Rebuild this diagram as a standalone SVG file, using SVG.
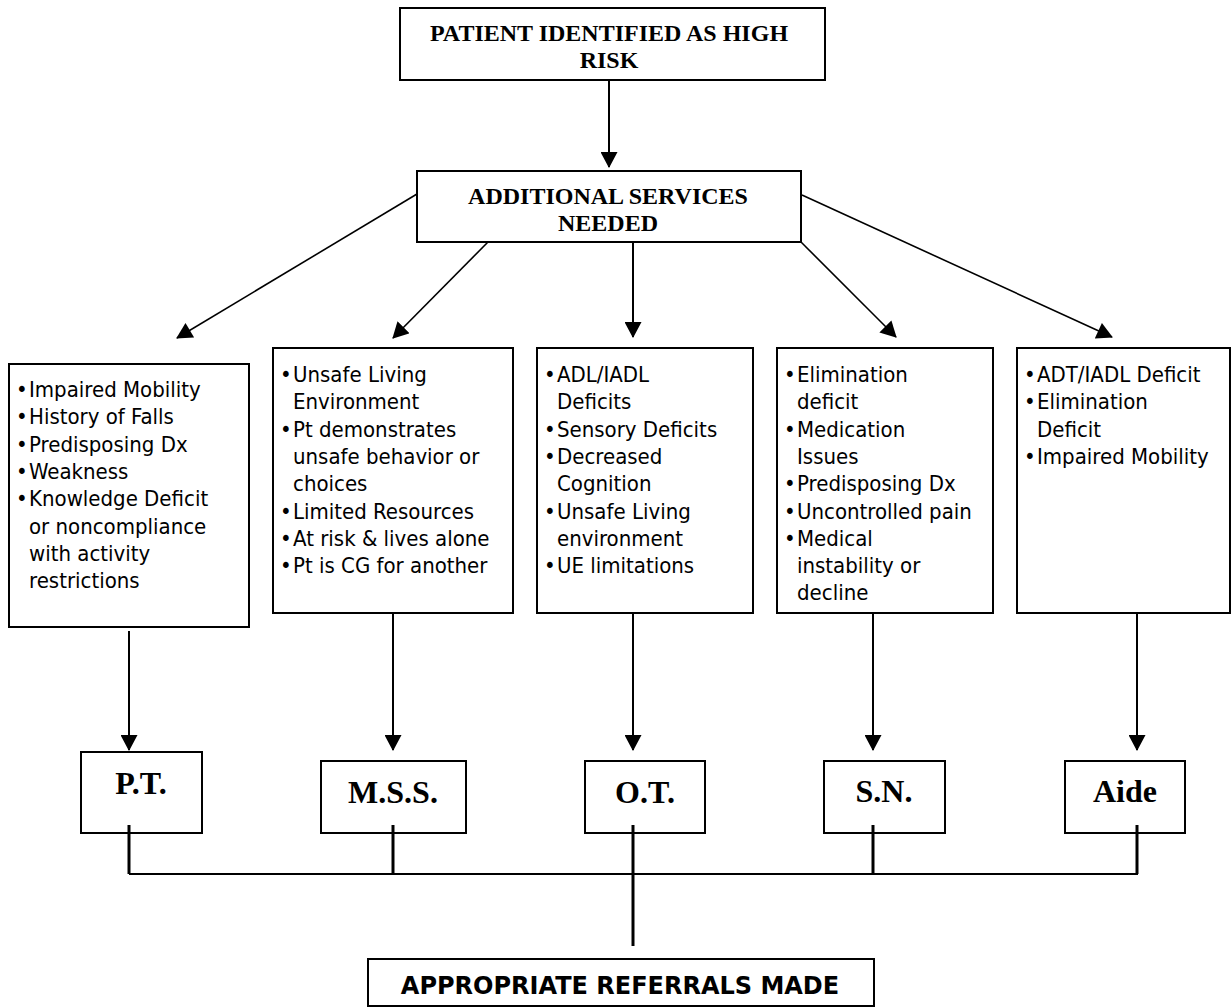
<svg xmlns="http://www.w3.org/2000/svg" width="1231" height="1007" viewBox="0 0 1231 1007">
  <defs>
    <marker id="arrow" markerUnits="userSpaceOnUse" markerWidth="17" markerHeight="17" viewBox="0 0 16 17" refX="15" refY="8.5" orient="auto">
      <path d="M0,0 L16,8.5 L0,17 z" fill="#000"/>
    </marker>
    <style>
      .box { fill: #fff; stroke: #000; stroke-width: 2; }
      .head { font-family: "Liberation Serif", "Times New Roman", serif; font-weight: bold; font-size: 24px; fill: #000; text-anchor: middle; }
      .svc { font-family: "Liberation Serif", "Times New Roman", serif; font-weight: bold; font-size: 32px; fill: #000; text-anchor: middle; }
      .item { font-family: "DejaVu Sans Condensed", "DejaVu Sans", sans-serif; font-stretch: condensed; font-size: 22px; fill: #000; }
      .final { font-family: "DejaVu Sans", sans-serif; font-weight: bold; font-size: 24px; fill: #000; text-anchor: middle; }
      .conn { fill: none; stroke: #000; stroke-width: 2; }
      .diag { fill: none; stroke: #000; stroke-width: 1.6; }
      .join { fill: none; stroke: #000; stroke-width: 3; }
      .bar { fill: none; stroke: #000; stroke-width: 2.2; }
    </style>
  </defs>

  <g id="connectors">
    <line class="conn" x1="609" y1="80" x2="609" y2="167" marker-end="url(#arrow)"/>
    <line class="diag" x1="417" y1="194" x2="177" y2="338" marker-end="url(#arrow)"/>
    <line class="diag" x1="488" y1="242" x2="393" y2="338" marker-end="url(#arrow)"/>
    <line class="conn" x1="633" y1="242" x2="633" y2="337" marker-end="url(#arrow)"/>
    <line class="diag" x1="801" y1="242" x2="896" y2="337" marker-end="url(#arrow)"/>
    <line class="diag" x1="802" y1="195" x2="1112" y2="337" marker-end="url(#arrow)"/>

    <line class="conn" x1="129" y1="631" x2="129" y2="750" marker-end="url(#arrow)"/>
    <line class="conn" x1="393" y1="607" x2="393" y2="750" marker-end="url(#arrow)"/>
    <line class="conn" x1="633" y1="607" x2="633" y2="750" marker-end="url(#arrow)"/>
    <line class="conn" x1="873" y1="607" x2="873" y2="750" marker-end="url(#arrow)"/>
    <line class="conn" x1="1137" y1="607" x2="1137" y2="750" marker-end="url(#arrow)"/>
  </g>

  <g id="node-high-risk">
    <rect class="box" x="400" y="8" width="425" height="72"/>
    <text class="head" x="609" y="41">PATIENT IDENTIFIED AS HIGH</text>
    <text class="head" x="609" y="68">RISK</text>
  </g>

  <g id="node-additional-services">
    <rect class="box" x="417" y="171" width="384" height="71"/>
    <text class="head" x="608" y="204">ADDITIONAL SERVICES</text>
    <text class="head" x="608" y="231">NEEDED</text>
  </g>

  <g id="node-pt-criteria">
    <rect class="box" x="9" y="364" width="240" height="263"/>
    <text class="item">
      <tspan x="16" y="397">•</tspan><tspan x="29" y="397">Impaired Mobility</tspan>
      <tspan x="16" y="424.3">•</tspan><tspan x="29" y="424.3">History of Falls</tspan>
      <tspan x="16" y="451.6">•</tspan><tspan x="29" y="451.6">Predisposing Dx</tspan>
      <tspan x="16" y="478.9">•</tspan><tspan x="29" y="478.9">Weakness</tspan>
      <tspan x="16" y="506.2">•</tspan><tspan x="29" y="506.2">Knowledge Deficit</tspan>
      <tspan x="29" y="533.5">or noncompliance</tspan>
      <tspan x="29" y="560.8">with activity</tspan>
      <tspan x="29" y="588.1">restrictions</tspan>
    </text>
  </g>

  <g id="node-mss-criteria">
    <rect class="box" x="273" y="348" width="240" height="265"/>
    <text class="item">
      <tspan x="280" y="382">•</tspan><tspan x="293" y="382">Unsafe Living</tspan>
      <tspan x="293" y="409.3">Environment</tspan>
      <tspan x="280" y="436.6">•</tspan><tspan x="293" y="436.6">Pt demonstrates</tspan>
      <tspan x="293" y="463.9">unsafe behavior or</tspan>
      <tspan x="293" y="491.2">choices</tspan>
      <tspan x="280" y="518.5">•</tspan><tspan x="293" y="518.5">Limited Resources</tspan>
      <tspan x="280" y="545.8">•</tspan><tspan x="293" y="545.8">At risk &amp; lives alone</tspan>
      <tspan x="280" y="573.1">•</tspan><tspan x="293" y="573.1">Pt is CG for another</tspan>
    </text>
  </g>

  <g id="node-ot-criteria">
    <rect class="box" x="537" y="348" width="216" height="265"/>
    <text class="item">
      <tspan x="544" y="382">•</tspan><tspan x="557" y="382">ADL/IADL</tspan>
      <tspan x="557" y="409.3">Deficits</tspan>
      <tspan x="544" y="436.6">•</tspan><tspan x="557" y="436.6">Sensory Deficits</tspan>
      <tspan x="544" y="463.9">•</tspan><tspan x="557" y="463.9">Decreased</tspan>
      <tspan x="557" y="491.2">Cognition</tspan>
      <tspan x="544" y="518.5">•</tspan><tspan x="557" y="518.5">Unsafe Living</tspan>
      <tspan x="557" y="545.8">environment</tspan>
      <tspan x="544" y="573.1">•</tspan><tspan x="557" y="573.1">UE limitations</tspan>
    </text>
  </g>

  <g id="node-sn-criteria">
    <rect class="box" x="777" y="348" width="216" height="265"/>
    <text class="item">
      <tspan x="784" y="382">•</tspan><tspan x="797" y="382">Elimination</tspan>
      <tspan x="797" y="409.3">deficit</tspan>
      <tspan x="784" y="436.6">•</tspan><tspan x="797" y="436.6">Medication</tspan>
      <tspan x="797" y="463.9">Issues</tspan>
      <tspan x="784" y="491.2">•</tspan><tspan x="797" y="491.2">Predisposing Dx</tspan>
      <tspan x="784" y="518.5">•</tspan><tspan x="797" y="518.5">Uncontrolled pain</tspan>
      <tspan x="784" y="545.8">•</tspan><tspan x="797" y="545.8">Medical</tspan>
      <tspan x="797" y="573.1">instability or</tspan>
      <tspan x="797" y="600.4">decline</tspan>
    </text>
  </g>

  <g id="node-aide-criteria">
    <rect class="box" x="1017" y="348" width="213" height="265"/>
    <text class="item">
      <tspan x="1024" y="382">•</tspan><tspan x="1037" y="382">ADT/IADL Deficit</tspan>
      <tspan x="1024" y="409.3">•</tspan><tspan x="1037" y="409.3">Elimination</tspan>
      <tspan x="1037" y="436.6">Deficit</tspan>
      <tspan x="1024" y="463.9">•</tspan><tspan x="1037" y="463.9">Impaired Mobility</tspan>
    </text>
  </g>

  <g id="node-pt">
    <rect class="box" x="81" y="752" width="121" height="81"/>
    <text class="svc" x="141" y="794">P.T.</text>
  </g>
  <g id="node-mss">
    <rect class="box" x="321" y="761" width="145" height="72"/>
    <text class="svc" x="393" y="803">M.S.S.</text>
  </g>
  <g id="node-ot">
    <rect class="box" x="585" y="761" width="120" height="72"/>
    <text class="svc" x="645" y="803">O.T.</text>
  </g>
  <g id="node-sn">
    <rect class="box" x="824" y="761" width="121" height="72"/>
    <text class="svc" x="884" y="802">S.N.</text>
  </g>
  <g id="node-aide">
    <rect class="box" x="1065" y="761" width="120" height="72"/>
    <text class="svc" x="1125" y="802">Aide</text>
  </g>

  <g id="connectors-bottom">
    <line class="join" x1="129" y1="825" x2="129" y2="874"/>
    <line class="join" x1="393" y1="825" x2="393" y2="874"/>
    <line class="join" x1="633" y1="825" x2="633" y2="946"/>
    <line class="join" x1="873" y1="825" x2="873" y2="874"/>
    <line class="join" x1="1137" y1="825" x2="1137" y2="874"/>
    <line class="bar" x1="129" y1="874" x2="1138" y2="874"/>
  </g>

  <g id="node-referrals">
    <rect class="box" x="368" y="959" width="506" height="47"/>
    <text class="final" x="620" y="994">APPROPRIATE REFERRALS MADE</text>
  </g>
</svg>
